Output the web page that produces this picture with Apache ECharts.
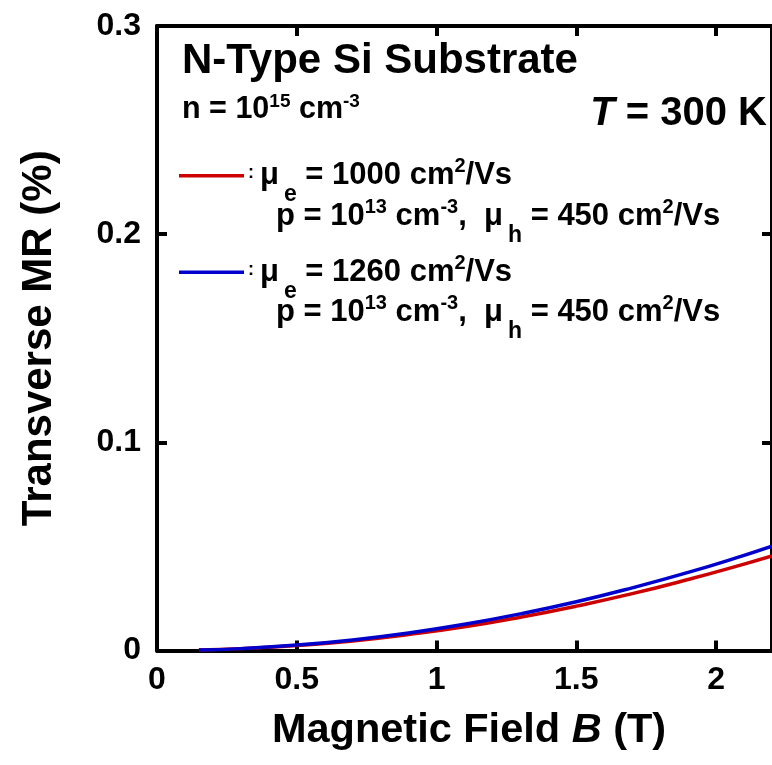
<!DOCTYPE html>
<html>
<head>
<meta charset="utf-8">
<script src="https://cdn.jsdelivr.net/npm/echarts@6/dist/echarts.min.js"></script>
<style>
  html, body { margin: 0; padding: 0; background: #fff; }
  #chart { width: 772px; height: 765px; }
</style>
</head>
<body>
<div id="chart"></div>
<script>
// Magnetic field B (T)
const fieldB = [0.15, 0.3, 0.5, 0.7, 0.9, 1.1, 1.3, 1.5, 1.7, 1.9, 2.1, 2.2];
// Transverse MR (%) for mu_e = 1000 cm^2/Vs
const mrMuE1000 = [0.0002, 0.0009, 0.0024, 0.0046, 0.0077, 0.0114, 0.0160, 0.0213, 0.0273, 0.0341, 0.0415, 0.0454];
// Transverse MR (%) for mu_e = 1260 cm^2/Vs
const mrMuE1260 = [0.0002, 0.0009, 0.0026, 0.0051, 0.0084, 0.0126, 0.0176, 0.0234, 0.0301, 0.0375, 0.0457, 0.0501];
const seriesColors = ['#cc0000', '#0000cc'];

const FONT = "'Liberation Sans', Arial, Helvetica, sans-serif";
const INK = '#000';

function pairs(xs, ys) { return xs.map((x, i) => [x, ys[i]]); }

// rich-text styles: main text, italic, superscript, subscript, small colon
function richStyles(size, supSize, supLift, subSize, subDrop, subGap) {
  return {
    b:   { fontSize: size, fontWeight: 'bold', fontFamily: FONT, fill: INK },
    i:   { fontSize: size, fontWeight: 'bold', fontStyle: 'italic', fontFamily: FONT, fill: INK },
    sup: { fontSize: supSize, fontWeight: 'bold', fontFamily: FONT, fill: INK, padding: [0, 0, supLift * 2, 0] },
    sub: { fontSize: subSize, fontWeight: 'bold', fontFamily: FONT, fill: INK, padding: [subDrop * 2, 0, 0, subGap] },
    c:   { fontSize: 18, fontWeight: 'bold', fontFamily: FONT, fill: INK, padding: [0, 6, 4, 0] }
  };
}

// frame pieces, built fresh for every axis
function frameLine() { return { show: true, onZero: false, lineStyle: { color: INK, width: 4 } }; }
function frameTick() { return { show: true, inside: true, length: 10, lineStyle: { color: INK, width: 4 } }; }

const chart = echarts.init(document.getElementById('chart'), null, { renderer: 'canvas' });

const legendRich = richStyles(31, 20, 9, 23, 20, 5);

chart.setOption({
  backgroundColor: '#fff',
  animation: false,
  grid: { left: 157, right: -9, top: 26, bottom: 114.5, containLabel: false },
  xAxis: [
    {
      type: 'value', min: 0, max: 2.2, interval: 0.5, position: 'bottom',
      name: '{b|Magnetic Field }{i|B}{b| (T)}',
      nameLocation: 'middle', nameGap: 59,
      nameTextStyle: {
        padding: [0, 0, 0, 9],
        rich: {
          b: { fontSize: 41.5, fontWeight: 'bold', fontFamily: FONT, color: INK },
          i: { fontSize: 41.5, fontWeight: 'bold', fontStyle: 'italic', fontFamily: FONT, color: INK }
        }
      },
      axisLine: frameLine(), axisTick: frameTick(), splitLine: { show: false },
      axisLabel: { show: true, margin: 14, fontSize: 32, fontWeight: 'bold', fontFamily: FONT, color: INK, showMaxLabel: false }
    },
    {
      type: 'value', min: 0, max: 2.2, interval: 0.5, position: 'top',
      axisLine: frameLine(), axisTick: frameTick(), splitLine: { show: false },
      axisLabel: { show: false }
    }
  ],
  yAxis: [
    {
      type: 'value', min: 0, max: 0.3, interval: 0.1, position: 'left',
      name: 'Transverse MR (%)', nameLocation: 'middle', nameGap: 97,
      nameTextStyle: { fontSize: 42, fontWeight: 'bold', fontFamily: FONT, color: INK },
      axisLine: frameLine(), axisTick: frameTick(), splitLine: { show: false },
      axisLabel: { show: true, margin: 16, fontSize: 32, fontWeight: 'bold', fontFamily: FONT, color: INK }
    },
    {
      type: 'value', min: 0, max: 0.3, interval: 0.1, position: 'right',
      axisLine: frameLine(), axisTick: frameTick(), splitLine: { show: false },
      axisLabel: { show: false }
    }
  ],
  series: [
    {
      name: 'mu_e = 1000', type: 'line', data: pairs(fieldB, mrMuE1000),
      smooth: true, showSymbol: false, symbol: 'none',
      lineStyle: { color: seriesColors[0], width: 3.5 }, z: 3
    },
    {
      name: 'mu_e = 1260', type: 'line', data: pairs(fieldB, mrMuE1260),
      smooth: true, showSymbol: false, symbol: 'none',
      lineStyle: { color: seriesColors[1], width: 3.5 }, z: 4
    }
  ],
  graphic: [
    {
      type: 'text', x: 182, y: 61,
      style: { text: 'N-Type Si Substrate', font: `bold 42px ${FONT}`, fill: INK, verticalAlign: 'middle', align: 'left' }
    },
    {
      type: 'text', x: 182, y: 110,
      style: {
        text: '{b|n = 10}{sup|15}{b| cm}{sup|-3}',
        rich: richStyles(30.5, 19, 8, 20, 10, 0), verticalAlign: 'middle', align: 'left'
      }
    },
    {
      type: 'text', x: 767, y: 114,
      style: {
        text: '{i|T}{b| = 300 K}',
        rich: richStyles(40, 20, 8, 20, 10, 0), verticalAlign: 'middle', align: 'right'
      }
    },
    // legend entry 1
    {
      type: 'line', shape: { x1: 179, y1: 175.7, x2: 244, y2: 175.7 },
      style: { stroke: seriesColors[0], lineWidth: 3.5 }
    },
    {
      type: 'text', x: 248, y: 175,
      style: {
        text: '{c|:}{b|\u03bc}{sub|e}{b| = 1000 cm}{sup|2}{b|/Vs}',
        rich: legendRich, verticalAlign: 'middle', align: 'left'
      }
    },
    {
      type: 'text', x: 276, y: 216,
      style: {
        text: '{b|p = 10}{sup|13}{b| cm}{sup|-3}{b|,  \u03bc}{sub|h}{b| = 450 cm}{sup|2}{b|/Vs}',
        rich: legendRich, verticalAlign: 'middle', align: 'left'
      }
    },
    // legend entry 2
    {
      type: 'line', shape: { x1: 179, y1: 272.3, x2: 244, y2: 272.3 },
      style: { stroke: seriesColors[1], lineWidth: 3.5 }
    },
    {
      type: 'text', x: 248, y: 272,
      style: {
        text: '{c|:}{b|\u03bc}{sub|e}{b| = 1260 cm}{sup|2}{b|/Vs}',
        rich: legendRich, verticalAlign: 'middle', align: 'left'
      }
    },
    {
      type: 'text', x: 276, y: 312,
      style: {
        text: '{b|p = 10}{sup|13}{b| cm}{sup|-3}{b|,  \u03bc}{sub|h}{b| = 450 cm}{sup|2}{b|/Vs}',
        rich: legendRich, verticalAlign: 'middle', align: 'left'
      }
    }
  ]
});
</script>
</body>
</html>
